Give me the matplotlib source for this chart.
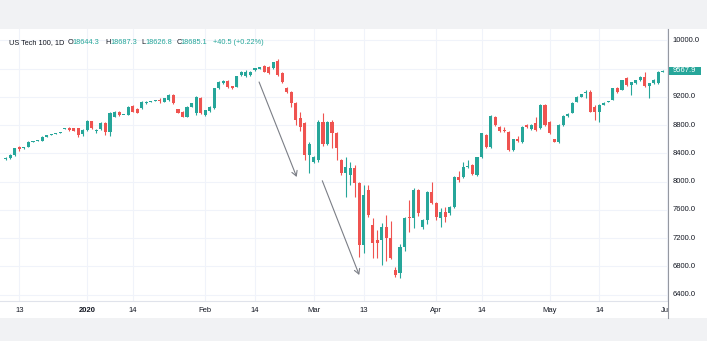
import numpy as np
import pandas as pd
import matplotlib
matplotlib.use("Agg")
import matplotlib.pyplot as plt
from matplotlib.patches import Rectangle

plt.rcParams['font.family'] = ['Liberation Sans', 'DejaVu Sans']

# daily bars, CFD has a short sunday session, no bar on full holidays
closed = ['2019-12-25', '2020-01-01', '2020-04-10']
days = pd.date_range('2019-12-10', '2020-05-31')
dates = [d for d in days if d.dayofweek != 5 and d.strftime('%Y-%m-%d') not in closed]

opens = [8320, 8335, 8375, 8495,
         8470, 8490, 8565, 8575, 8578, 8636,
         8660, 8674, 8690, 8745, 8763,
         8755, 8755, 8674, 8731, 8858,
         8712, 8740, 8834, 8707, 8919, 8990,
         8943, 8943, 9070, 9024, 9038, 9108,
         9131, 9140, 9148, 9131, 9150, 9226,
         9024, 8990, 8919, 9060, 8967, 9180,
         8943, 9000, 9038, 9321, 9392, 9428,
         9353, 9343, 9509, 9495, 9510, 9580,
         9595, 9636, 9622, 9608, 9707, 9537,
         9325, 9268, 9113, 8900, 8830, 8377,
         8278, 8306, 8851, 8533, 8851, 8684,
         8306, 8118, 8094, 8193, 7981, 7104,
         7882, 7386, 7174, 7174, 7358, 7203,
         6750, 6703, 7080, 7500, 7486, 7882,
         7358, 7457, 7858, 7693, 7481, 7575,
         7552, 7637, 8061, 8061, 8211,
         8230, 8100, 8344, 8660, 8494, 8919,
         8780, 8720, 8707, 8448, 8603, 8560,
         8800, 8745, 8825, 8754, 9085, 8850,
         8603, 8565, 8801, 8934, 8972, 9130,
         9202, 9250, 9273, 9060, 8990, 9085,
         9130, 9155, 9321, 9297, 9462, 9367,
         9392, 9438, 9485, 9357, 9392, 9392,
         9556]
highs = [8345, 8385, 8480, 8510,
         8495, 8570, 8580, 8595, 8640, 8665,
         8678, 8690, 8698, 8765, 8775,
         8760, 8760, 8740, 8868, 8865,
         8745, 8845, 8850, 8980, 9000, 9005,
         8950, 9068, 9080, 9040, 9138, 9140,
         9136, 9150, 9180, 9188, 9235, 9240,
         9030, 9000, 9068, 9115, 9210, 9195,
         9020, 9070, 9330, 9425, 9440, 9435,
         9360, 9500, 9565, 9580, 9560, 9615,
         9625, 9645, 9630, 9700, 9730, 9545,
         9335, 9280, 9125, 8990, 8850, 8560,
         8360, 8870, 8972, 8865, 8870, 8700,
         8320, 8354, 8280, 8230, 8000, 7953,
         7953, 7480, 7316, 7410, 7528, 7450,
         6790, 7120, 7500, 7740, 7910, 7900,
         7470, 7870, 8000, 7705, 7627, 7646,
         7650, 8080, 8150, 8282, 8306,
         8250, 8350, 8690, 8670, 8940, 8930,
         8790, 8780, 8720, 8610, 8640, 8785,
         8810, 8810, 8910, 9100, 9100, 8860,
         8610, 8810, 8950, 8975, 9120, 9210,
         9240, 9300, 9290, 9080, 9100, 9120,
         9140, 9330, 9335, 9445, 9480, 9410,
         9445, 9495, 9556, 9400, 9450, 9570,
         9575]
lows = [8305, 8325, 8360, 8430,
        8465, 8485, 8555, 8570, 8572, 8630,
        8655, 8668, 8685, 8740, 8720,
        8712, 8630, 8646, 8721, 8745,
        8695, 8728, 8660, 8646, 8910, 8935,
        8938, 8938, 8982, 8968, 9030, 9100,
        9126, 9135, 9110, 9125, 9140, 9100,
        8970, 8910, 8912, 9050, 8950, 8955,
        8935, 8990, 9030, 9310, 9385, 9325,
        9315, 9335, 9500, 9480, 9500, 9572,
        9590, 9545, 9530, 9600, 9495, 9400,
        9260, 9050, 8800, 8710, 8306, 8123,
        8260, 8280, 8500, 8520, 8476, 8306,
        8100, 7788, 7950, 7788, 6938, 6990,
        7500, 6915, 6915, 6820, 6873, 6900,
        6650, 6632, 7020, 7292, 7344, 7520,
        7330, 7400, 7680, 7460, 7362, 7433,
        7530, 7620, 7990, 8047, 8188,
        8094, 8080, 8330, 8480, 8480, 8790,
        8700, 8700, 8440, 8440, 8560, 8540,
        8760, 8735, 8720, 8740, 8790, 8670,
        8560, 8540, 8790, 8920, 8965, 9125,
        9195, 9180, 8980, 8872, 8850, 9080,
        9120, 9150, 9260, 9290, 9350, 9226,
        9385, 9430, 9340, 9180, 9380, 9380,
        9550]
closes = [8335, 8375, 8475, 8465,
          8490, 8565, 8572, 8588, 8636, 8660,
          8674, 8684, 8693, 8755, 8731,
          8717, 8660, 8731, 8858, 8755,
          8735, 8834, 8707, 8967, 8990, 8943,
          8946, 9060, 8990, 8976, 9131, 9131,
          9133, 9145, 9145, 9180, 9226, 9108,
          8976, 8919, 9060, 9108, 9202, 8967,
          9014, 9060, 9321, 9414, 9428, 9335,
          9321, 9495, 9551, 9551, 9550, 9608,
          9620, 9551, 9537, 9693, 9509, 9410,
          9268, 9113, 8872, 8773, 8377, 8533,
          8349, 8851, 8533, 8851, 8684, 8472,
          8118, 8212, 8193, 7981, 7104, 7811,
          7528, 7132, 7132, 7358, 7200, 6920,
          6679, 7080, 7486, 7480, 7882, 7557,
          7457, 7858, 7693, 7504, 7575, 7504,
          7637, 8070, 8023, 8211, 8215,
          8110, 8344, 8684, 8494, 8929, 8802,
          8710, 8715, 8448, 8603, 8570, 8778,
          8770, 8801, 8731, 9085, 8801, 8684,
          8565, 8801, 8934, 8960, 9113, 9202,
          9235, 9262, 8990, 8990, 9085, 9110,
          9135, 9321, 9273, 9438, 9367, 9405,
          9438, 9485, 9357, 9392, 9438, 9556,
          9567.9]

tick_dates = ['2019-12-13', '2020-01-02', '2020-01-14', '2020-02-02', '2020-02-14', '2020-03-01',
              '2020-03-13', '2020-04-01', '2020-04-14', '2020-05-01', '2020-05-14', '2020-06-01']
tick_labels = ['13', '2020', '14', 'Feb', '14', 'Mar', '13', 'Apr', '14', 'May', '14', 'Jun']
price_ticks = [6400, 6800, 7200, 7600, 8000, 8400, 8800, 9200, 9600, 10000]
last_price = 9567.9

# hand drawn arrows on the chart: (bar position, price)
arrow_from = [(55.9, 9410), (69.85, 8013)]
arrow_to = [(64.2, 8066), (78.0, 6679)]

up, down = '#26a69a', '#ef5350'
ink = '#131722'
W, H = 707, 341

assert len(dates) == len(opens) == len(highs) == len(lows) == len(closes)

fig = plt.figure(figsize=(W / 100, H / 100), dpi=100, facecolor='#f1f2f4')
fig.add_artist(Rectangle((0, 23 / H), 1, 289 / H, transform=fig.transFigure,
                         facecolor='white', edgecolor='none', zorder=-5))

ax = fig.add_axes([0, 40 / H, 668 / W, 272 / H])
pax = fig.add_axes([668 / W, 23 / H, 39 / W, 289 / H], zorder=2)

o = np.array(opens, dtype=float)
h = np.array(highs, dtype=float)
l = np.array(lows, dtype=float)
c = np.array(closes, dtype=float)
x = np.arange(len(dates))
col = np.where(c >= o, up, down)

ax.vlines(x, l, h, colors=col, lw=0.8, zorder=2)
body = np.maximum(np.abs(c - o), 9)
ax.bar(x, body, bottom=np.minimum(o, c), width=0.68, color=col, linewidth=0, zorder=3)

# tick positions, june 1 is the bar after the last one
keys = [d.strftime('%Y-%m-%d') for d in dates]
tick_pos = [keys.index(t) if t in keys else len(keys) for t in tick_dates]

for p in price_ticks:
    ax.axhline(p, color='#f0f3fa', lw=0.8, zorder=0)
for t in tick_pos:
    ax.axvline(t, color='#f0f3fa', lw=0.8, zorder=0)

for a, b in zip(arrow_from, arrow_to):
    ax.annotate('', xy=b, xytext=a,
                arrowprops=dict(arrowstyle='->,head_length=0.35,head_width=0.2',
                                color='#7b7e86', lw=0.8, shrinkA=0, shrinkB=0), zorder=4)

ax.set_xlim(-1.28, 146.15)
ax.set_ylim(6311, 10160)
ax.set_yticks([])
ax.set_xticks(tick_pos)
ax.set_xticklabels(tick_labels)
ax.tick_params(axis='x', length=0, pad=4.5, labelsize=5.5, labelcolor=ink)
ax.get_xticklabels()[1].set_fontweight('bold')
for s in ['top', 'left', 'right']:
    ax.spines[s].set_visible(False)
ax.spines['bottom'].set_color('#e0e3eb')
ax.spines['bottom'].set_linewidth(0.8)

# price scale
lo, hi = ax.get_ylim()
pp = (hi - lo) / 272
pax.set_xlim(0, 1)
pax.set_ylim(lo - 17 * pp, hi)
pax.set_xticks([])
pax.set_yticks([])
for s in ['top', 'right', 'bottom']:
    pax.spines[s].set_visible(False)
pax.spines['left'].set_color('#9598a1')
pax.spines['left'].set_linewidth(0.8)
tr = pax.get_yaxis_transform()
for p in price_ticks:
    if abs(p - last_price) < 100:
        continue
    pax.text(0.12, p, f'{p:.1f}', transform=tr, fontsize=5.5, color=ink, va='center', ha='left')
pax.add_patch(Rectangle((0, last_price - 4.2 * pp), 0.85, 8.4 * pp, transform=tr,
                        facecolor=up, edgecolor='none'))
pax.text(0.12, last_price, f'{last_price:.1f}', transform=tr, fontsize=5.5,
         color='white', va='center', ha='left')

# legend line at the top left
yh = 1 - 42.5 / H
parts = [(9, 'US Tech 100, 1D', ink), (68, 'O', ink), (72.5, '18644.3', up),
         (105, 'H', ink), (110, '18687.3', up), (141.5, 'L', ink), (145, '18626.8', up),
         (176.5, 'C', ink), (180.5, '18685.1', up), (213, '+40.5 (+0.22%)', up)]
for px, s, cl in parts:
    fig.text(px / W, yh, s, fontsize=5.3, color=cl, va='center', ha='left')

fig.savefig('out.png', dpi=100, facecolor=fig.get_facecolor())
